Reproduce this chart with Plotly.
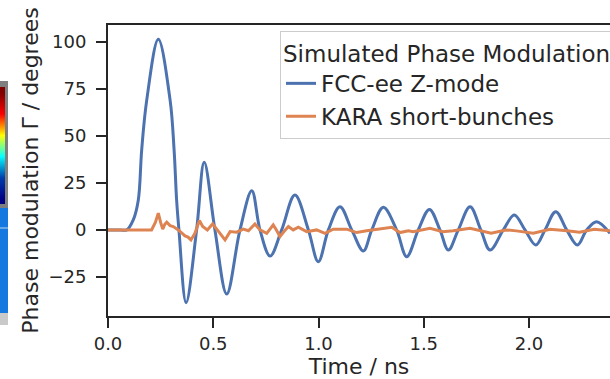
import plotly.graph_objects as go

# ---------------- data ----------------
fcc_t = [0.0, 0.06, 0.089, 0.12, 0.144, 0.160, 0.184, 0.239, 0.295, 0.314, 0.326,
         0.337, 0.371, 0.421, 0.457, 0.508, 0.564, 0.627, 0.683, 0.722, 0.770,
         0.825, 0.888, 0.952, 0.999, 1.047, 1.102, 1.158, 1.213, 1.253, 1.308,
         1.371, 1.419, 1.474, 1.527, 1.577, 1.617, 1.664, 1.720, 1.771, 1.815,
         1.878, 1.930, 1.981, 2.032, 2.076, 2.127, 2.179, 2.230, 2.274, 2.321, 2.385]
fcc_v = [0.0, 0.0, 0.0, 5.3, 15.9, 42.4, 68.9, 101.2, 68.9, 42.4, 15.9,
         0.0, -38.6, 0.0, 35.9, 0.0, -34.0, 0.0, 20.8, 0.0, -13.9,
         0.0, 18.5, 0.0, -16.9, 0.0, 12.3, 0.0, -11.2, 0.0, 12.0,
         0.0, -14.2, 0.0, 10.9, 0.0, -10.7, 0.0, 12.3, 0.0, -10.7,
         0.0, 7.9, 0.0, -8.0, 0.0, 9.7, 0.0, -8.0, 0.0, 4.4, -1.8]

kara_t = [0.0, 0.207, 0.225, 0.239, 0.25, 0.26, 0.27, 0.279, 0.295, 0.31, 0.334,
          0.35, 0.366, 0.38, 0.394, 0.413, 0.434, 0.45, 0.472, 0.497, 0.524,
          0.54, 0.556, 0.58, 0.611, 0.643, 0.667, 0.698, 0.722, 0.754, 0.77,
          0.785, 0.8, 0.817, 0.835, 0.857, 0.880, 0.904, 0.944, 0.991, 1.031,
          1.07, 1.134, 1.181, 1.229, 1.292, 1.348, 1.387, 1.427, 1.45, 1.53,
          1.59, 1.64, 1.72, 1.82, 1.89, 1.94, 2.02, 2.10, 2.18, 2.24, 2.31, 2.385]
kara_v = [0.0, 0.0, 4.0, 8.9, 4.0, 0.4, 3.0, 4.1, 2.3, 1.8, 0.0,
          -1.5, -3.2, -3.8, -5.3, -1.8, 5.0, 1.8, 0.0, 3.2, -0.9,
          -3.0, -5.3, -0.9, -1.2, 0.4, -0.4, 3.2, 0.0, -1.8, 0.5,
          2.7, 0.0, -3.5, -1.0, 1.8, 0.0, 1.4, -0.9, 0.0, -1.8,
          0.4, 0.4, -1.4, -0.4, 0.4, 1.4, -1.4, -0.4, -0.9, 0.9,
          -0.9, -0.4, 0.9, -1.8, 0.0, -0.5, -1.8, 0.4, -0.4, -1.2, 0.4, -0.5]

x_ticks = [0.0, 0.5, 1.0, 1.5, 2.0]
y_ticks = [-25, 0, 25, 50, 75, 100]

# fragment of a neighbouring colour bar (jet colormap levels)
cbar_levels = [0, 1, 2, 3, 4, 5, 6, 7, 8, 9, 10]

# ---------------- figure ----------------
W, H = 610, 379
TXT = "#262626"
FONT = "DejaVu Sans"


def px(x):
    return x / W


def py(y):
    return 1 - y / H


fig = go.Figure()

fig.add_trace(go.Scatter(
    x=fcc_t, y=fcc_v, mode="lines", name="FCC-ee Z-mode",
    line=dict(color="#4c72b0", width=3, shape="spline", smoothing=1.0),
))
fig.add_trace(go.Scatter(
    x=kara_t, y=kara_v, mode="lines", name="KARA short-bunches",
    line=dict(color="#dd8452", width=3),
))

# colour bar fragment on the far left
fig.add_trace(go.Heatmap(
    z=[[v, v] for v in cbar_levels], colorscale="Jet", showscale=False,
    zsmooth="best", xaxis="x2", yaxis="y2", hoverinfo="skip",
))

shapes = [
    dict(type="rect", xref="paper", yref="paper", x0=px(-2), x1=px(8),
         y0=py(208), y1=py(81), fillcolor="#7f7f7f", line=dict(width=0), layer="below"),
    dict(type="rect", xref="paper", yref="paper", x0=px(-2), x1=px(8),
         y0=py(313), y1=py(208), fillcolor="#1478e0", line=dict(width=0), layer="below"),
    dict(type="rect", xref="paper", yref="paper", x0=px(-2), x1=px(8),
         y0=py(325), y1=py(313), fillcolor="#c9c9c9", line=dict(width=0), layer="below"),
    dict(type="line", xref="paper", yref="paper", x0=px(0), x1=px(8),
         y0=py(228), y1=py(228), line=dict(color="#b8d8f0", width=1)),
]

fig.update_layout(
    width=W, height=H,
    margin=dict(l=0, r=0, t=0, b=0, autoexpand=False),
    paper_bgcolor="white", plot_bgcolor="white",
    font=dict(family=FONT, color=TXT, size=22),
    shapes=shapes,
    xaxis=dict(
        domain=[px(108), 1.0], range=[0, 2.3848],
        tickvals=x_ticks, tickformat=".1f",
        showline=True, linecolor=TXT, linewidth=2, mirror=True,
        ticks="outside", ticklen=10, tickwidth=2, tickcolor=TXT,
        tickfont=dict(size=18, color=TXT),
        showgrid=False, zeroline=False, automargin=False,
        title=dict(text="Time / ns", font=dict(size=22, color=TXT), standoff=6),
    ),
    yaxis=dict(
        domain=[py(316), py(25)], range=[-45.7, 108.8],
        tickvals=y_ticks,
        showline=True, linecolor=TXT, linewidth=2, mirror=False,
        ticks="outside", ticklen=10, tickwidth=2, tickcolor=TXT,
        tickfont=dict(size=18, color=TXT), ticklabelstandoff=6,
        showgrid=False, zeroline=False, automargin=False,
        title=dict(text="Phase modulation Γ / degrees", font=dict(size=22, color=TXT), standoff=4),
    ),
    xaxis2=dict(domain=[0, px(5)], anchor="y2", visible=False, fixedrange=True),
    yaxis2=dict(domain=[py(204), py(87)], anchor="x2", visible=False, fixedrange=True),
    legend=dict(
        x=px(280), y=py(31), xanchor="left", yanchor="top",
        bgcolor="rgba(255,255,255,0.8)", bordercolor="#cccccc", borderwidth=1,
        font=dict(size=23, color=TXT),
        title=dict(text="Simulated Phase Modulation", font=dict(size=23, color=TXT)),
        tracegroupgap=0,
    ),
    showlegend=True,
)

fig.write_html("out.html", config={"displayModeBar": False},
               post_script="document.body.style.margin='0';")
